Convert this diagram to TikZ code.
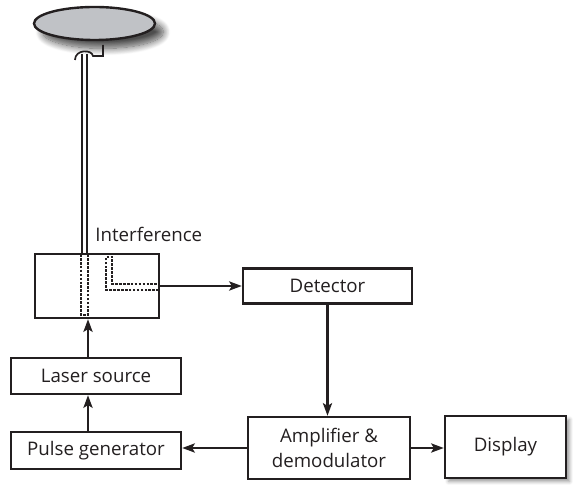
\documentclass[tikz,border=0pt]{standalone}
\usepackage{fontspec}
\setmainfont{Open Sans}
\usetikzlibrary{arrows.meta,shadows.blur}
\definecolor{ink}{RGB}{35,31,32}
\definecolor{dish}{RGB}{192,194,198}

\begin{document}
\begin{tikzpicture}[
		box/.style={draw=ink, line width=1.7pt, fill=white, text=ink, align=center, font=\fontsize{13.3}{18}\selectfont},
		flow/.style={draw=ink, line width=1.7pt, -{Stealth[length=9pt, width=6.5pt, inset=2pt]}},
		fibre/.style={draw=ink, line width=1.2pt, double=white, double distance=2.6pt},
		dots/.style={draw=ink, line width=1.5pt, dash pattern={on 1.9pt off 0.9pt}}
	]
			\useasboundingbox (0, 0) rectangle (14.325, 12.1);
			\draw[draw=ink, line width=1.7pt, fill=dish, blur shadow={shadow xshift=6pt, shadow yshift=-6pt, shadow blur radius=5pt, shadow blur steps=12, shadow opacity=70}] (2.3625, 11.5125) ellipse (1.5125 and 0.4125);
			\draw[fibre] (2.1125, 10.74) -- (2.1125, 5.75);
			\draw[draw=ink, line width=1.2pt] (1.875, 10.6) .. controls (1.875, 10.87) and (2.3, 10.87) .. (2.325, 10.7) -- (2.575, 10.7) -- (2.575, 10.975);
			\node[anchor=west, text=ink, font=\fontsize{13.3}{16}\selectfont] (Lbl) at (2.26, 6.25) {Interference};
			\node[box, minimum width=3.1cm, minimum height=1.6cm] (Coupler) at (2.425, 4.95) {};
			\draw[dots] (2.025, 5.75) -- (2.025, 4.225) -- (2.2, 4.225) -- (2.2, 5.75);
			\draw[dots] (3.975, 4.85) -- (2.65, 4.85) -- (2.65, 5.675) -- (2.8, 5.675) -- (2.8, 5.0) -- (3.975, 5.0);
			\node[box, minimum width=4.225cm, minimum height=0.875cm] (Det) at (8.1875, 4.95) {Detector};
			\node[box, minimum width=4.05cm, minimum height=1.55cm] (Amp) at (8.225, 0.9) {Amplifier \&\\demodulator};
			\node[box, minimum width=3.025cm, minimum height=1.55cm, blur shadow={shadow xshift=2.5pt, shadow yshift=-2.5pt, shadow blur radius=2.5pt}] (Disp) at (12.6375, 0.925) {Display};
			\node[box, minimum width=4.25cm, minimum height=0.925cm] (Pulse) at (2.4, 0.8375) {Pulse generator};
			\node[box, minimum width=4.25cm, minimum height=0.9cm] (Laser) at (2.4, 2.7) {Laser source};
			\coordinate (Tap) at (2.2, 0);
			\draw[flow] (Coupler.east) -- (Det.west);
			\draw[flow] (Det.south) -- (Det.south |- Amp.north);
			\draw[flow] (Amp.west) -- (Amp.west -| Pulse.east);
			\draw[flow] (Amp.east) -- (Amp.east -| Disp.west);
			\draw[flow] (Tap |- Pulse.north) -- (Tap |- Laser.south);
			\draw[flow] (Tap |- Laser.north) -- (Tap |- Coupler.south);
		\end{tikzpicture}
\end{document}
